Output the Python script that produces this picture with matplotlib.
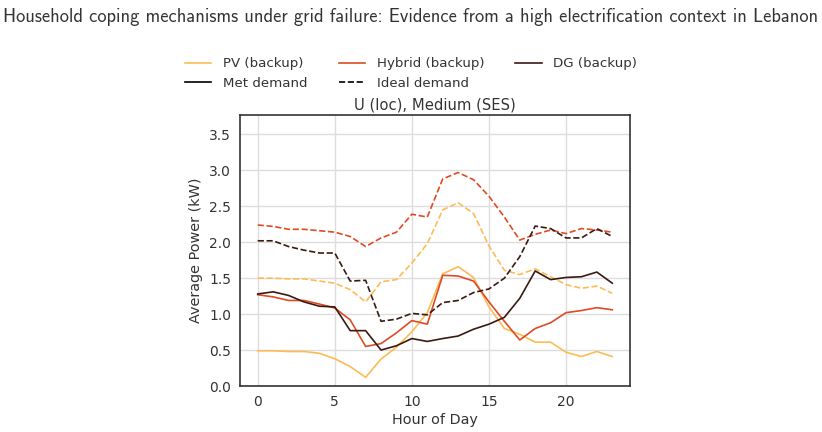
import matplotlib
matplotlib.use("Agg")
import matplotlib.pyplot as plt
from matplotlib.lines import Line2D

hours = list(range(24))

pv_met = [0.49, 0.49, 0.48, 0.48, 0.455, 0.38, 0.27, 0.12, 0.375, 0.54, 0.755, 1.02,
          1.56, 1.66, 1.51, 1.10, 0.80, 0.72, 0.61, 0.61, 0.47, 0.41, 0.48, 0.41]
pv_ideal = [1.50, 1.50, 1.49, 1.49, 1.46, 1.43, 1.34, 1.17, 1.45, 1.48, 1.71, 1.98,
            2.45, 2.55, 2.40, 1.95, 1.61, 1.55, 1.63, 1.52, 1.41, 1.36, 1.39, 1.29]
hyb_met = [1.27, 1.24, 1.19, 1.19, 1.14, 1.085, 0.92, 0.55, 0.59, 0.74, 0.91, 0.86,
           1.54, 1.53, 1.46, 1.17, 0.90, 0.64, 0.80, 0.88, 1.02, 1.05, 1.09, 1.06]
hyb_ideal = [2.24, 2.22, 2.18, 2.18, 2.16, 2.14, 2.08, 1.94, 2.06, 2.14, 2.39, 2.35,
             2.88, 2.97, 2.87, 2.64, 2.35, 2.03, 2.11, 2.17, 2.12, 2.19, 2.17, 2.14]
dg_met = [1.28, 1.31, 1.26, 1.17, 1.11, 1.10, 0.77, 0.77, 0.50, 0.56, 0.66, 0.62,
          0.66, 0.695, 0.79, 0.86, 0.955, 1.22, 1.60, 1.48, 1.51, 1.52, 1.585, 1.43]
dg_ideal = [2.02, 2.02, 1.94, 1.89, 1.85, 1.85, 1.46, 1.47, 0.90, 0.93, 1.01, 0.99,
            1.16, 1.19, 1.30, 1.35, 1.50, 1.80, 2.225, 2.19, 2.06, 2.06, 2.19, 2.08]

series_names = ["PV (backup)", "Hybrid (backup)", "DG (backup)"]
colors = ["#fdbb55", "#e04a24", "#3a1a12"]
met = [pv_met, hyb_met, dg_met]
ideal = [pv_ideal, hyb_ideal, dg_ideal]

title = "Household coping mechanisms under grid failure: Evidence from a high electrification context in Lebanon"
subtitle = "U (loc), Medium (SES)"

txt = "#333333"
plt.rcParams.update({"font.family": "DejaVu Sans", "text.color": txt,
                     "axes.labelcolor": txt, "xtick.color": txt, "ytick.color": txt})

fig = plt.figure(figsize=(8.22, 4.32), dpi=100)
ax = fig.add_axes([240/822, 1-386/432, 390/822, 271/432])

for name, c, m, i in zip(series_names, colors, met, ideal):
    ax.plot(hours, m, color=c, lw=1.2)
    ax.plot(hours, i, color=c, lw=1.2, ls="--")

ax.set_xlim(-1.15, 24.15)
ax.set_ylim(0, 3.77)
ax.set_xticks([0, 5, 10, 15, 20])
ax.set_yticks([0, 0.5, 1.0, 1.5, 2.0, 2.5, 3.0, 3.5])
ax.grid(True, color="#dddddd", lw=1.0)
ax.set_axisbelow(True)
ax.tick_params(length=0, labelsize=10, pad=6.5)
for s in ax.spines.values():
    s.set_color("#333333")
    s.set_linewidth(1.2)
ax.set_xlabel("Hour of Day", fontsize=10.4, labelpad=3)
ax.set_ylabel("Average Power (kW)", fontsize=10.4, labelpad=4)
ax.set_title(subtitle, fontsize=10.6, pad=4)

handles = [Line2D([], [], color=colors[0], lw=1.2),
           Line2D([], [], color="black", lw=1.2),
           Line2D([], [], color=colors[1], lw=1.2),
           Line2D([], [], color="black", lw=1.2, ls="--"),
           Line2D([], [], color=colors[2], lw=1.2)]
labels = [series_names[0], "Met demand", series_names[1], "Ideal demand", series_names[2]]
fig.legend(handles, labels, loc="upper center", bbox_to_anchor=(0.5, 1-48/432), ncol=3,
           frameon=False, fontsize=9.6, handlelength=2.0, columnspacing=2.35,
           labelspacing=0.5, handletextpad=0.85, borderpad=0.2)

fig.text(0.5, 1-17/432, title, ha="center", va="center", fontsize=13.3, family="cmss10")

fig.savefig("out.png", dpi=100)
